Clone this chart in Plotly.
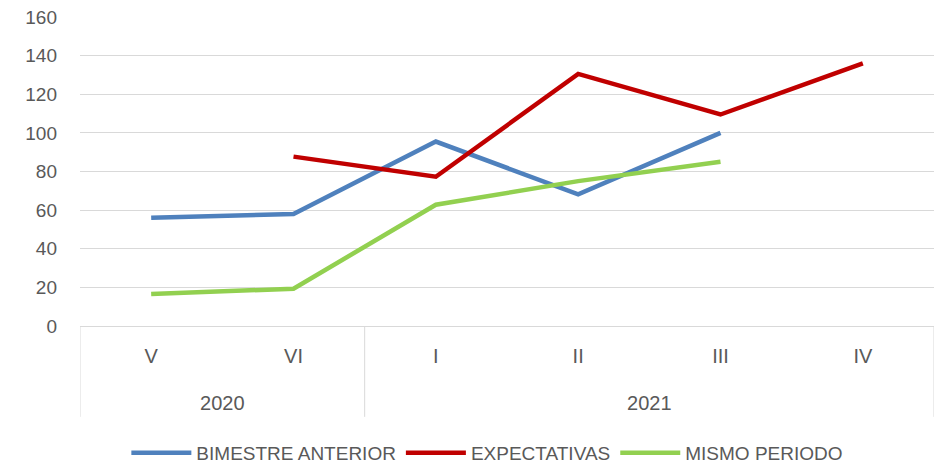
import plotly.graph_objects as go

years = ["2020", "2020", "2021", "2021", "2021", "2021"]
periods = ["V", "VI", "I", "II", "III", "IV"]

bimestre_anterior = [56, 58, 95.5, 68.2, 100, None]
expectativas = [None, 87.7, 77.3, 130.5, 109.5, 136]
mismo_periodo = [16.6, 19.3, 62.8, 75, 85, None]

FONT = "Liberation Sans, Arial, sans-serif"
GREY = "#595959"
LINE_GREY = "#D9D9D9"

# year group centres and boundaries (in category index units)
year_labels, groups, bounds = [], [], [-0.5]
for i, y in enumerate(years):
    if not year_labels or year_labels[-1] != y:
        if year_labels:
            bounds.append(i - 0.5)
        year_labels.append(y)
        groups.append([i])
    else:
        groups[-1].append(i)
bounds.append(len(years) - 0.5)
year_centres = [sum(g) / len(g) for g in groups]

fig = go.Figure()
for name, vals, color in [
    ("BIMESTRE ANTERIOR", bimestre_anterior, "#4F81BD"),
    ("EXPECTATIVAS", expectativas, "#C00000"),
    ("MISMO PERIODO", mismo_periodo, "#92D050"),
]:
    fig.add_trace(go.Scatter(
        x=periods, y=vals, name=name, mode="lines",
        line=dict(color=color, width=4.5), connectgaps=False,
    ))

# carrier trace for the year axis
fig.add_trace(go.Scatter(x=year_centres, y=[None] * len(year_centres), xaxis="x2",
                         showlegend=False, hoverinfo="skip", mode="lines"))

n = len(periods)
for b in bounds:
    fig.add_shape(type="line", xref="x2", yref="paper", x0=b, x1=b, y0=0, y1=-0.293,
                  line=dict(color=LINE_GREY, width=1), layer="above")

W, H = 934, 459
fig.update_layout(
    width=W, height=H,
    margin=dict(l=72, r=8, t=8, b=H - 8 - 310, autoexpand=False),
    paper_bgcolor="white", plot_bgcolor="white",
    font=dict(family=FONT, size=20, color=GREY),
    showlegend=True,
    legend=dict(orientation="h", xref="paper", x=0.477, xanchor="center",
                yref="container", y=1 - (453 - 8) / H, yanchor="middle",
                font=dict(size=19, color=GREY), tracegroupgap=0, itemwidth=60),
    xaxis=dict(
        type="category", range=[-0.5, n - 0.5], automargin=False,
        showgrid=False, showline=True, linecolor=LINE_GREY, linewidth=1,
        tickfont=dict(size=20, color=GREY), ticks="", ticklabelstandoff=12,
        ticklabeloverflow="allow",
    ),
    xaxis2=dict(
        overlaying="x", side="bottom", range=[-0.5, n - 0.5], automargin=False,
        tickvals=year_centres, ticktext=year_labels,
        showgrid=False, showline=False, zeroline=False, ticks="",
        tickfont=dict(size=20, color=GREY), ticklabelstandoff=63,
        ticklabeloverflow="allow",
    ),
    yaxis=dict(
        range=[0, 160.5], dtick=20, showgrid=True, gridcolor=LINE_GREY, gridwidth=1,
        zeroline=False, showline=False, tickfont=dict(size=19, color=GREY),
        ticklabelstandoff=22, automargin=False, ticklabeloverflow="allow",
    ),
)

fig.write_html("out.html")
